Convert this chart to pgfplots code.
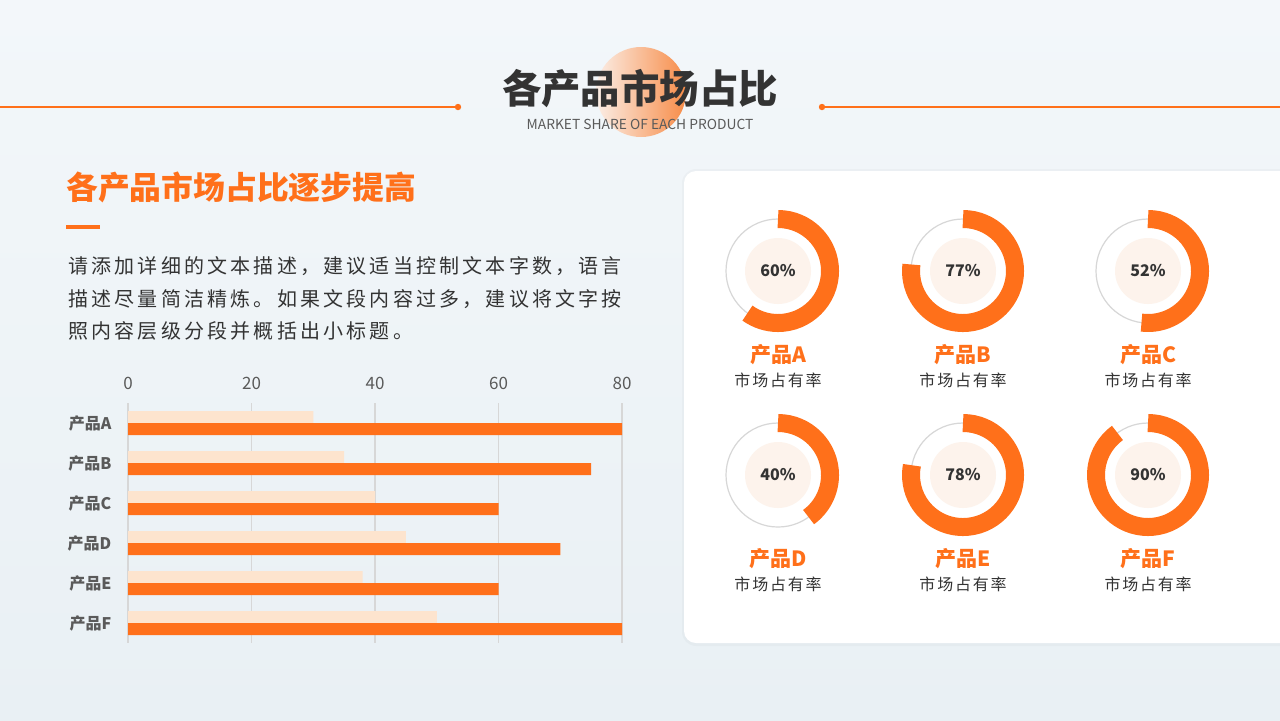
\documentclass[border=0pt]{standalone}
\usepackage{pgfplots}
\pgfplotsset{compat=1.18}
\usepackage{pgfplotstable}
\usepackage{fontspec}
\setmainfont{Noto Sans CJK SC}
\definecolor{org}{RGB}{255,112,26}
\definecolor{peach}{RGB}{253,228,206}
\definecolor{dark}{RGB}{51,51,51}
\definecolor{bgtop}{RGB}{243,247,250}
\definecolor{bgbot}{RGB}{233,240,244}
\definecolor{gridc}{RGB}{215,215,215}
\definecolor{pale}{RGB}{253,243,236}
\definecolor{tickc}{RGB}{90,90,90}

\pgfplotstableread{
y a b
0 30 80
1 35 75
2 40 60
3 45 70
4 38 60
5 50 80
}\bardata

\newcommand{\donut}[4]{%
  \draw[gridc, line width=0.6pt] (axis cs:#1,#2) circle[radius=26pt];
  \fill[pale] (axis cs:#1,#2) circle[radius=16.5pt];
  \draw[org, line width=9pt] (axis cs:#1,#2) ++(0pt,26pt) arc[start angle=90, delta angle=-#3*3.6, radius=26pt];
  \node[font=\fontsize{8pt}{9pt}\selectfont\bfseries, text=dark] at (axis cs:#1,#2) {#3\%};
  \node[font=\fontsize{10.5pt}{12pt}\selectfont\bfseries, text=org] at (axis cs:#1,#2) [yshift=-42pt] {产品#4};
  \node[font=\fontsize{8pt}{9pt}\selectfont\addfontfeature{LetterSpace=11}, text=dark] at (axis cs:#1,#2) [yshift=-54.5pt] {市场占有率};
}

\begin{document}
\begin{tikzpicture}[x=0.5pt,y=-0.5pt]
\useasboundingbox (0,0) rectangle (1280,720);
\clip (0,0) rectangle (1280,720);
\shade[top color=bgtop, bottom color=bgbot] (0,0) rectangle (1280,720);
\coordinate (barorigin) at (128,403);
\coordinate (topleft) at (0,0);

% title decoration
\shade[shading angle=135, left color={rgb,255:red,251;green,238;blue,230}, right color={rgb,255:red,247;green,140;blue,72}] (641,92) circle (22.5pt);
\draw[org, line width=0.8pt] (0,107) -- (458,107);
\fill[org] (458,107) circle (1.6pt);
\draw[org, line width=0.8pt] (822,107) -- (1280,107);
\fill[org] (822,107) circle (1.6pt);
\node[font=\fontsize{19.7pt}{22pt}\selectfont\bfseries, text=dark] at (640,89) {各产品市场占比};
\node[font=\fontsize{6.9pt}{8pt}\selectfont, text=tickc] at (640,124) {MARKET SHARE OF EACH PRODUCT};

% left text
\node[anchor=west, inner sep=0pt, font=\fontsize{15.9pt}{18pt}\selectfont\bfseries, text=org] at (66,187) {各产品市场占比逐步提高};
\fill[org] (66,225) rectangle (100,229);
\begin{scope}[every node/.style={anchor=west, inner sep=0pt, text=dark, font=\fontsize{10pt}{12pt}\selectfont\addfontfeature{LetterSpace=16}}]
\node at (68,266) {请添加详细的文本描述，建议适当控制文本字数，语言};
\node at (68,299) {描述尽量简洁精炼。如果文段内容过多，建议将文字按};
\node at (68,331) {照内容层级分段并概括出小标题。};
\end{scope}

% right panel
\fill[black, opacity=0.025, rounded corners=7pt] (682,169) rectangle (1300,646);
\fill[white, rounded corners=6pt] (684,171) rectangle (1300,643);

% bar chart
\begin{axis}[at={(barorigin)}, anchor=north west, scale only axis,
  width=247pt, height=120pt,
  xmin=0, xmax=80, ymin=-0.5, ymax=5.5, y dir=reverse,
  xtick={0,20,40,60,80}, ytick={0,1,2,3,4,5},
  yticklabels={产品A,产品B,产品C,产品D,产品E,产品F},
  xticklabel pos=upper,
  axis line style={draw=none}, tick style={draw=none},
  xmajorgrids, ymajorgrids=false, major grid style={gridc, line width=0.6pt},
  xticklabel style={font=\fontsize{8.5pt}{10pt}\selectfont, text=tickc, yshift=3pt},
  yticklabel style={font=\fontsize{8pt}{9pt}\selectfont\bfseries, text=tickc, xshift=-0.5pt},
  /pgf/number format/assume math mode=true,
  xbar, bar width=6pt]
\addplot[fill=peach, draw=none, bar shift=3pt] table[x=a, y=y] {\bardata};
\addplot[fill=org, draw=none, bar shift=-3pt] table[x=b, y=y] {\bardata};
\end{axis}

% donuts
\begin{axis}[at={(topleft)}, anchor=north west, scale only axis,
  width=640pt, height=360pt, xmin=0, xmax=1280, ymin=0, ymax=720,
  y dir=reverse, hide axis, clip=false]
\donut{778}{271}{60}{A}
\donut{963}{271}{77}{B}
\donut{1148}{271}{52}{C}
\donut{778}{475}{40}{D}
\donut{963}{475}{78}{E}
\donut{1148}{475}{90}{F}
\end{axis}
\end{tikzpicture}
\end{document}
